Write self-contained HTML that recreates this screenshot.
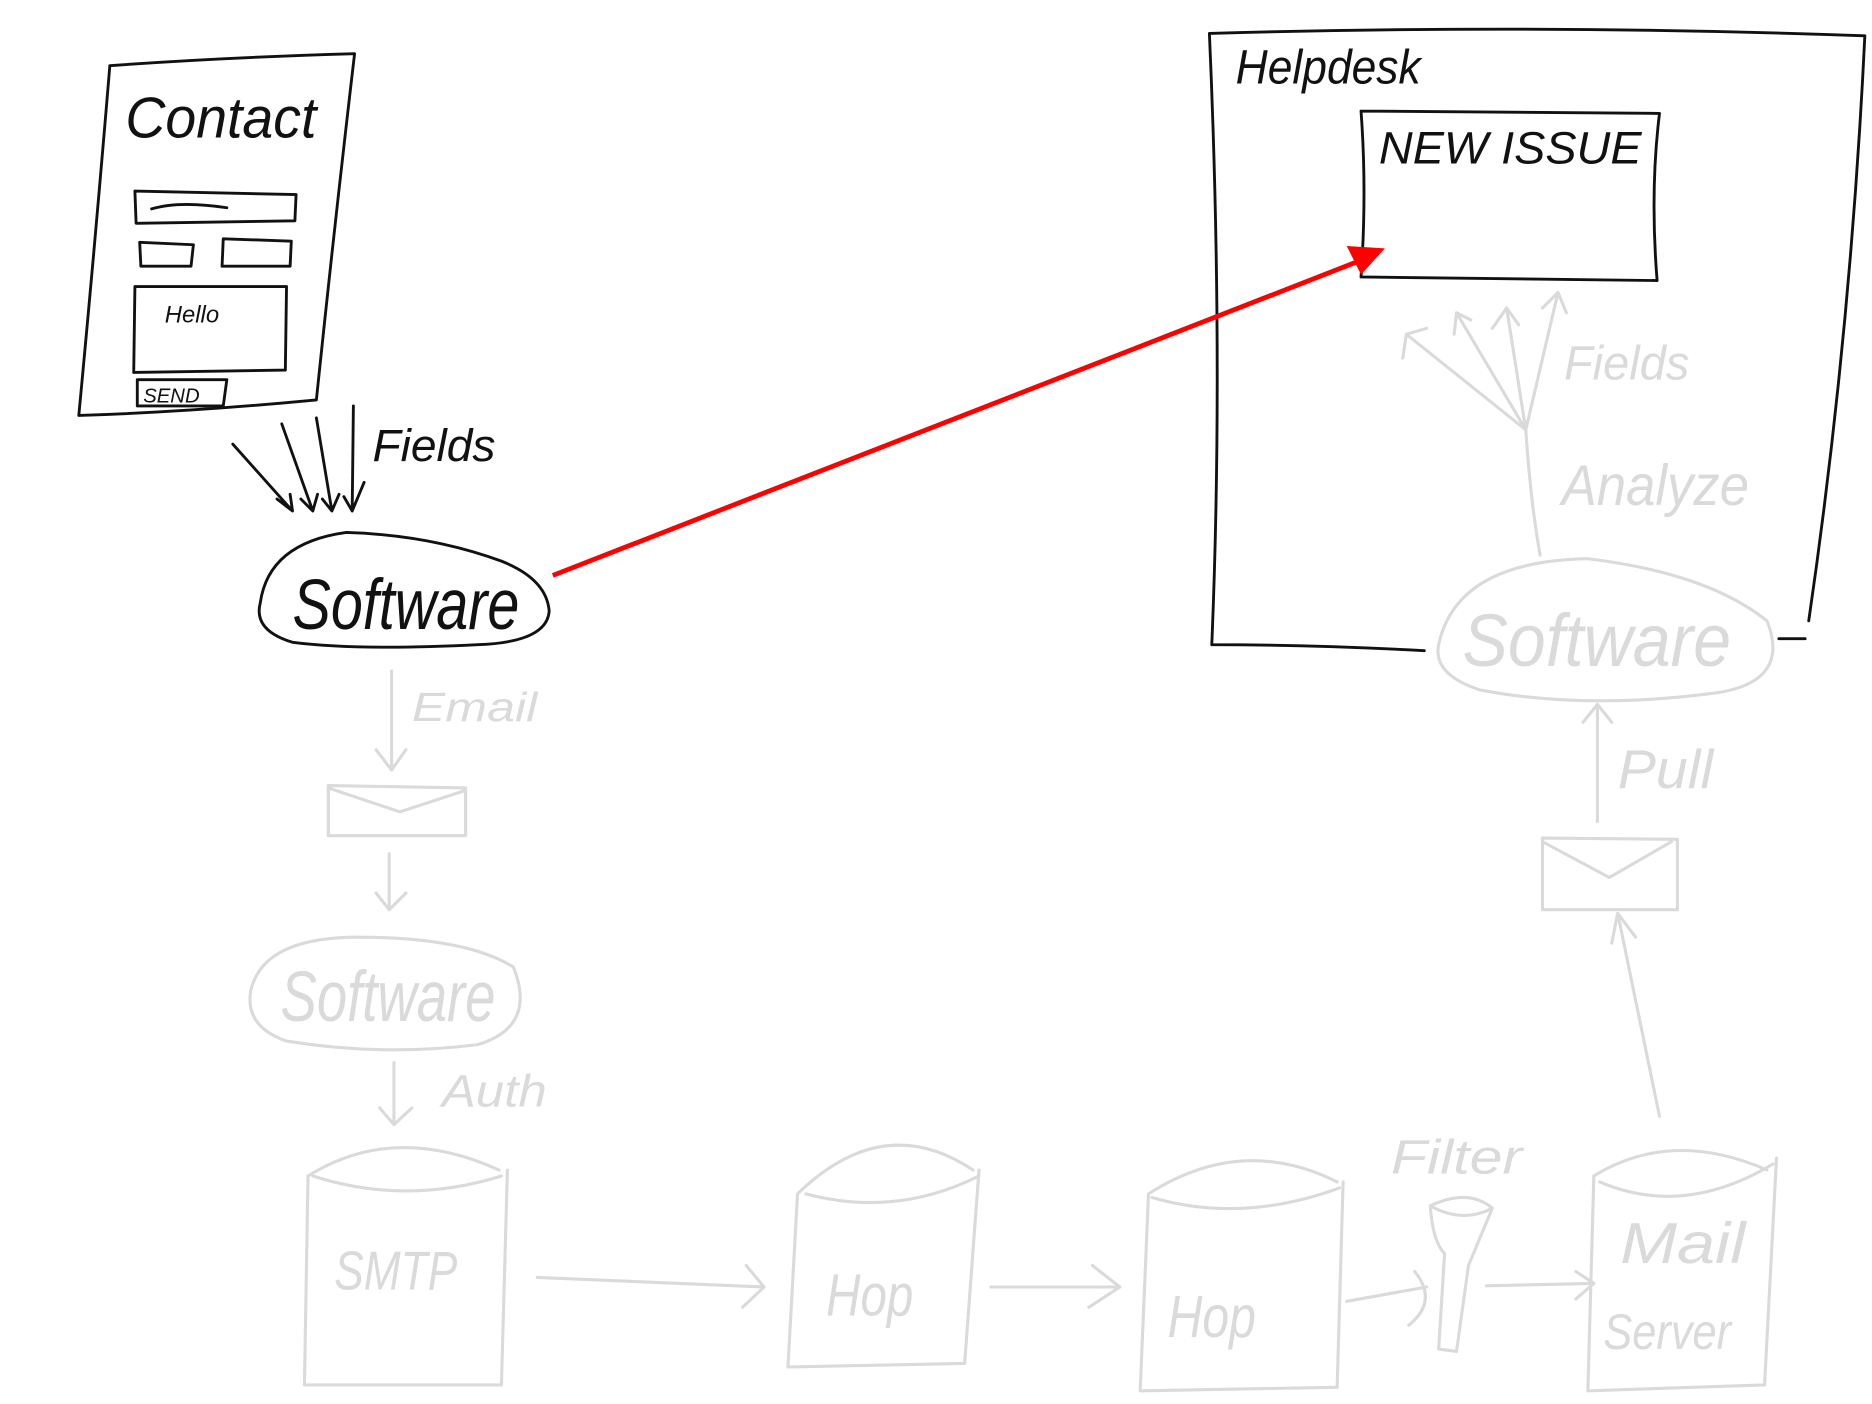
<!DOCTYPE html>
<html><head><meta charset="utf-8"><style>
html,body{margin:0;padding:0;background:#fff;}
svg{display:block}
text{font-family:"Liberation Sans",sans-serif;font-style:italic}
</style></head><body>
<svg width="1872" height="1404" viewBox="0 0 1568 1176" xmlns="http://www.w3.org/2000/svg">
<g fill="none" stroke="#111" stroke-width="2.4" stroke-linecap="round" stroke-linejoin="round">
<path d="M92,55 Q190,48 297,45 Q280,190 265,335 Q160,345 66,348 Q80,200 92,55"/>
<path d="M113,160 L248,163 L247,185 L114,187 Z"/>
<path d="M127,175 Q150,168 190,174"/>
<path d="M117,203 L162,205 L160,223 L118,223 Z"/>
<path d="M187,200 L244,202 L243,223 L186,223 Z"/>
<path d="M113,240 L240,240 L239,310 L112,312 Z"/>
<path d="M115,318 L190,318 L187,340 L115,340 Z"/>
<path d="M195,372 L245,428 M232,418 L245,428 L243,414"/>
<path d="M236,355 L262,428 M252,418 L262,428 L266,414"/>
<path d="M265,350 L278,428 M270,418 L278,428 L284,414"/>
<path d="M296,340 L295,428 M288,416 L295,428 L305,404"/>
<path d="M218,505 Q225,455 290,446 Q360,448 420,470 Q458,485 460,512 Q458,538 400,540 Q300,545 245,538 Q212,528 218,505"/>
<path d="M1013,28 Q1290,20 1562,30 Q1550,280 1515,520 M1490,535 L1512,535 M1193,545 Q1100,540 1015,540 Q1025,300 1013,28"/>
<path d="M1140,93 L1390,95 Q1382,160 1388,235 L1140,232 Q1145,160 1140,93"/>
</g>
<g fill="#111">
<text x="105" y="115" font-size="48" textLength="160" lengthAdjust="spacingAndGlyphs">Contact</text>
<text x="138" y="270" font-size="20">Hello</text>
<text x="120" y="337" font-size="17">SEND</text>
<text x="312" y="386" font-size="38" textLength="103" lengthAdjust="spacingAndGlyphs">Fields</text>
<text x="245" y="527" font-size="60" textLength="190" lengthAdjust="spacingAndGlyphs">Software</text>
<text x="1035" y="70" font-size="40" textLength="155" lengthAdjust="spacingAndGlyphs">Helpdesk</text>
<text x="1155" y="137" font-size="38" textLength="220" lengthAdjust="spacingAndGlyphs">NEW ISSUE</text>
</g>
<line x1="463" y1="482" x2="1140" y2="218" stroke="#f00" stroke-width="4"/>
<path d="M1128,206 L1160,208 L1140,230 Z" fill="#f00"/>
<g fill="none" stroke="#dadada" stroke-width="2.6" stroke-linecap="round" stroke-linejoin="round">
<path d="M1278,360 L1178,280 M1175,300 L1178,280 L1195,275"/>
<path d="M1278,360 L1220,262 M1218,280 L1220,262 L1232,268"/>
<path d="M1278,360 L1262,258 M1250,275 L1262,258 L1272,272"/>
<path d="M1278,360 L1305,245 M1292,258 L1305,245 L1312,262"/>
<path d="M1278,360 Q1282,420 1290,465"/>
<path d="M1205,540 Q1220,470 1330,468 Q1430,480 1480,520 Q1500,570 1440,580 Q1330,595 1240,578 Q1200,565 1205,540"/>
<path d="M1338,688 L1338,590 M1326,605 L1338,590 L1350,605"/>
<path d="M1292,702 L1405,703 L1405,762 L1292,762 Z M1292,705 L1348,735 L1400,705"/>
<path d="M1390,935 L1355,765 M1350,790 L1355,765 L1370,785"/>
<path d="M328,562 L328,645 M315,628 L328,645 L340,628"/>
<path d="M275,658 L390,660 L390,700 L275,700 Z M275,660 L335,680 L390,662"/>
<path d="M326,715 L326,762 M315,748 L326,762 L340,748"/>
<path d="M210,830 Q220,785 300,785 Q390,785 430,810 Q450,860 400,875 Q320,885 240,872 Q205,860 210,830"/>
<path d="M330,890 L330,942 M318,928 L330,942 L345,928"/>
<path d="M258,985 Q330,940 418,980 M262,985 Q340,1010 420,985 M258,985 L255,1160 L420,1160 L425,980"/>
<path d="M668,1000 Q740,930 815,980 M675,1000 Q750,1020 820,985 M668,1000 L660,1145 L808,1142 L820,980"/>
<path d="M962,1000 Q1040,950 1120,990 M965,1003 Q1040,1025 1122,995 M962,1000 L955,1165 L1120,1162 L1125,990"/>
<path d="M1335,985 Q1400,945 1480,980 M1340,990 Q1410,1020 1485,975 M1335,985 L1330,1165 L1478,1160 L1488,970"/>
<path d="M450,1070 L640,1078 M625,1060 L640,1078 L622,1095"/>
<path d="M830,1078 L938,1078 M915,1060 L938,1078 L912,1095"/>
<path d="M1128,1090 L1195,1078 M1185,1065 Q1205,1090 1180,1110"/>
<path d="M1245,1077 L1335,1075 M1320,1065 L1335,1075 L1320,1088"/>
<path d="M1198,1010 Q1230,995 1250,1012 Q1225,1025 1198,1010 M1198,1010 Q1200,1040 1210,1050 L1205,1130 L1220,1132 L1230,1060 L1250,1012"/>
</g>
<g fill="#dadada">
<text x="1310" y="318" font-size="40" textLength="105" lengthAdjust="spacingAndGlyphs">Fields</text>
<text x="1308" y="423" font-size="48" textLength="157" lengthAdjust="spacingAndGlyphs">Analyze</text>
<text x="1225" y="558" font-size="62" textLength="225" lengthAdjust="spacingAndGlyphs">Software</text>
<text x="1355" y="660" font-size="46" textLength="80" lengthAdjust="spacingAndGlyphs">Pull</text>
<text x="345" y="604" font-size="34" textLength="105" lengthAdjust="spacingAndGlyphs">Email</text>
<text x="235" y="855" font-size="60" textLength="180" lengthAdjust="spacingAndGlyphs">Software</text>
<text x="370" y="927" font-size="38" textLength="88" lengthAdjust="spacingAndGlyphs">Auth</text>
<text x="280" y="1080" font-size="46" textLength="103" lengthAdjust="spacingAndGlyphs">SMTP</text>
<text x="692" y="1102" font-size="50" textLength="73" lengthAdjust="spacingAndGlyphs">Hop</text>
<text x="978" y="1120" font-size="50" textLength="74" lengthAdjust="spacingAndGlyphs">Hop</text>
<text x="1357" y="1058" font-size="48" textLength="105" lengthAdjust="spacingAndGlyphs">Mail</text>
<text x="1343" y="1130" font-size="42" textLength="107" lengthAdjust="spacingAndGlyphs">Server</text>
<text x="1165" y="983" font-size="40" textLength="110" lengthAdjust="spacingAndGlyphs">Filter</text>
</g>
</svg>
</body></html>
